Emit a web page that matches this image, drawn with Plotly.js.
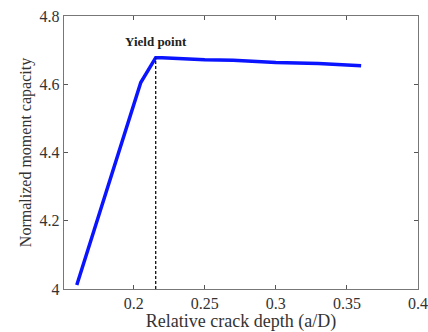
<!DOCTYPE html>
<html><head><meta charset="utf-8">
<script src="https://cdn.plot.ly/plotly-3.0.1.min.js"></script>
<style>html,body{margin:0;padding:0;background:#fff;}#c{width:428px;height:332px;}</style>
</head><body><div id="c"></div>
<script>
const crackDepth = [0.160, 0.205, 0.2155, 0.22, 0.25, 0.27, 0.30, 0.33, 0.36];
const momentCapacity = [4.012, 4.605, 4.678, 4.678, 4.672, 4.670, 4.664, 4.661, 4.654];
const yieldX = [0.2155, 0.2155];
const yieldY = [4.0, 4.678];
const xTicks = [0.2, 0.25, 0.3, 0.35, 0.4];
const xTickText = ['0.2', '0.25', '0.3', '0.35', '0.4'];
const yTicks = [4.0, 4.2, 4.4, 4.6, 4.8];
const yTickText = ['4', '4.2', '4.4', '4.6', '4.8'];

const serif = "'Liberation Serif', 'Times New Roman', Times, serif";
Plotly.newPlot('c', [
  {x: crackDepth, y: momentCapacity, mode: 'lines', line: {color: '#0a14ff', width: 3.5}, hoverinfo: 'skip'},
  {x: yieldX, y: yieldY, mode: 'lines', line: {color: '#111', width: 1.3, dash: '3px,2px'}, hoverinfo: 'skip'}
], {
  width: 428, height: 332,
  margin: {l: 64, r: 10, t: 16, b: 43},
  showlegend: false,
  paper_bgcolor: '#fff', plot_bgcolor: '#fff',
  font: {family: serif, color: '#333', size: 15},
  xaxis: {range: [0.151, 0.4], tickvals: xTicks, ticktext: xTickText, ticks: 'inside', ticklen: 4,
    tickcolor: '#555', showline: true, linecolor: '#777', linewidth: 1.2, mirror: 'ticks', showgrid: false, zeroline: false,
    tickfont: {family: serif, size: 16, color: '#333'},
    title: {text: 'Relative crack depth (a/D)', font: {family: serif, size: 18, color: '#333'}, standoff: 0}},
  yaxis: {range: [4.0, 4.8], tickvals: yTicks, ticktext: yTickText, ticks: 'inside', ticklen: 4,
    tickcolor: '#555', showline: true, linecolor: '#777', linewidth: 1.2, mirror: 'ticks', showgrid: false, zeroline: false,
    tickfont: {family: serif, size: 16, color: '#333'},
    title: {text: 'Normalized moment capacity', font: {family: serif, size: 16, color: '#333'}, standoff: 4}},
  annotations: [{x: 0.2155, y: 4.725, xref: 'x', yref: 'y', text: '<b>Yield point</b>', showarrow: false,
    font: {size: 13, color: '#222', family: serif}}]
}, {staticPlot: true});
</script></body></html>
